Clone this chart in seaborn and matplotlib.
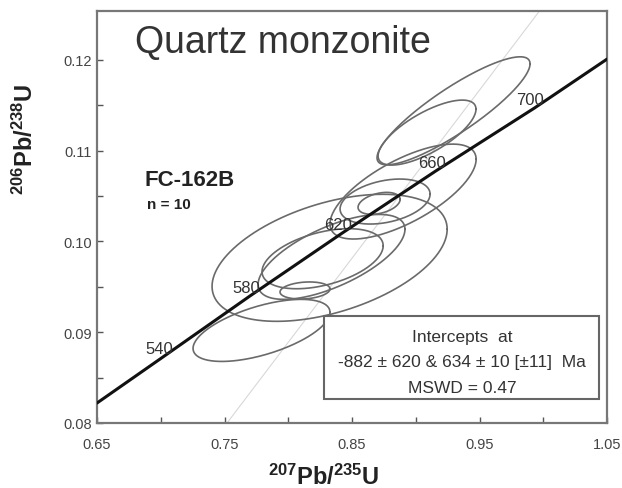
import numpy as np
import pandas as pd
import matplotlib
matplotlib.use('Agg')
import matplotlib.pyplot as plt
from matplotlib.patches import Rectangle
from matplotlib.ticker import FixedLocator, FormatStrFormatter
import seaborn as sns

# concordia age marks (Ma) and their positions
ages = [540, 580, 620, 660, 700]
age_x = [0.702, 0.770, 0.842, 0.916, 0.993]
age_y = [0.0873, 0.0940, 0.1009, 0.1078, 0.1147]
# concordia ends at the frame
conc_x = [0.65] + age_x + [1.05]
conc_y = [0.0822] + age_y + [0.1201]

# faint reference line
ref_x = [0.752, 0.997]
ref_y = [0.080, 0.1254]

# error ellipses: centre, half widths and correlation
ell_x = [0.9296, 0.9088, 0.8900, 0.8759, 0.8712, 0.8324, 0.8339, 0.8269, 0.8131, 0.7790]
ell_sx = [0.0600, 0.0384, 0.0573, 0.0353, 0.0165, 0.0922, 0.0576, 0.0475, 0.0196, 0.0537]
ell_y = [0.1144, 0.1120, 0.1055, 0.1044, 0.1042, 0.0982, 0.0983, 0.0981, 0.0946, 0.0902]
ell_sy = [0.00595, 0.00358, 0.00523, 0.00248, 0.00121, 0.0070, 0.00468, 0.00331, 0.00094, 0.00342]
ell_rho = [0.87, 0.72, 0.68, 0.33, 0.36, 0.45, 0.65, 0.43, 0.18, 0.58]

# axis ticks
x_major = [0.65, 0.75, 0.85, 0.95, 1.05]
x_minor = [0.70, 0.80, 0.90, 1.00]
y_major = [0.08, 0.09, 0.10, 0.11, 0.12]
y_minor = [0.085, 0.095, 0.105, 0.115]

sample = 'FC-162B'
n_spots = 10
rock = 'Quartz monzonite'
box_lines = ['Intercepts  at', '-882 ± 620 & 634 ± 10 [±11]  Ma', 'MSWD = 0.47']

sns.set_theme(style='ticks')
plt.rcParams['font.family'] = ['Liberation Sans', 'DejaVu Sans']
plt.rcParams['mathtext.default'] = 'regular'

# ellipse outlines
t = np.linspace(0, 2 * np.pi, 240)
rows = []
for i in range(len(ell_x)):
    xs = ell_x[i] + ell_sx[i] * np.cos(t)
    ys = ell_y[i] + ell_sy[i] * (ell_rho[i] * np.cos(t) + np.sqrt(1 - ell_rho[i] ** 2) * np.sin(t))
    rows.append(pd.DataFrame({'x': xs, 'y': ys, 'spot': i}))
df_ell = pd.concat(rows, ignore_index=True)

fig = plt.figure(figsize=(6.22, 4.89), dpi=100)
ax = fig.add_axes([0.156, 0.133, 0.82, 0.8425])

ax.plot(ref_x, ref_y, color='#d8d8d8', lw=0.8, zorder=1)
sns.lineplot(data=df_ell, x='x', y='y', units='spot', estimator=None, sort=False,
             color='#6a6a6a', lw=1.2, ax=ax, zorder=2)
sns.lineplot(x=conc_x, y=conc_y, sort=False, color='#111111', lw=2.2, ax=ax, zorder=3)

for a, x, y in zip(ages, age_x, age_y):
    ax.annotate(str(a), (x, y), xytext=(-3, 6), textcoords='offset points',
                ha='center', va='center', fontsize=12, color='#333333', zorder=4)

ax.set_xlim(0.65, 1.05)
ax.set_ylim(0.08, 0.1254)
ax.xaxis.set_major_locator(FixedLocator(x_major))
ax.xaxis.set_minor_locator(FixedLocator(x_minor))
ax.yaxis.set_major_locator(FixedLocator(y_major))
ax.yaxis.set_minor_locator(FixedLocator(y_minor))
ax.xaxis.set_major_formatter(FormatStrFormatter('%.2f'))
ax.yaxis.set_major_formatter(FormatStrFormatter('%.2f'))
ax.tick_params(which='both', direction='in', length=4, width=1, color='#555555',
               labelsize=10.5, labelcolor='#444444')
ax.tick_params(axis='x', pad=10)
for s in ax.spines.values():
    s.set_visible(True)
    s.set_color('#777777')
    s.set_linewidth(1.6)

ax.set_xlabel('$^{207}$Pb/$^{235}$U', fontsize=17, fontweight='bold', color='#222222')
ax.set_ylabel('$^{206}$Pb/$^{238}$U', fontsize=17, fontweight='bold', color='#222222')
ax.xaxis.set_label_coords(0.445, -0.1)
ax.yaxis.set_label_coords(-0.115, 0.69)

ax.text(0.075, 0.925, rock, transform=ax.transAxes, fontsize=27, color='#333333',
        ha='left', va='center')
ax.text(0.094, 0.59, sample, transform=ax.transAxes, fontsize=16, fontweight='bold',
        color='#222222', ha='left', va='center')
ax.text(0.098, 0.532, f'n = {n_spots}', transform=ax.transAxes, fontsize=11,
        fontweight='bold', color='#222222', ha='left', va='center')

ax.add_patch(Rectangle((0.445, 0.058), 0.539, 0.202, transform=ax.transAxes,
                       facecolor='white', edgecolor='#666666', lw=1.5, zorder=5))
for yy, line in zip([0.211, 0.148, 0.087], box_lines):
    ax.text(0.716, yy, line, transform=ax.transAxes, fontsize=12.5, color='#333333',
            ha='center', va='center', zorder=6)

fig.savefig('out.png', dpi=100)
